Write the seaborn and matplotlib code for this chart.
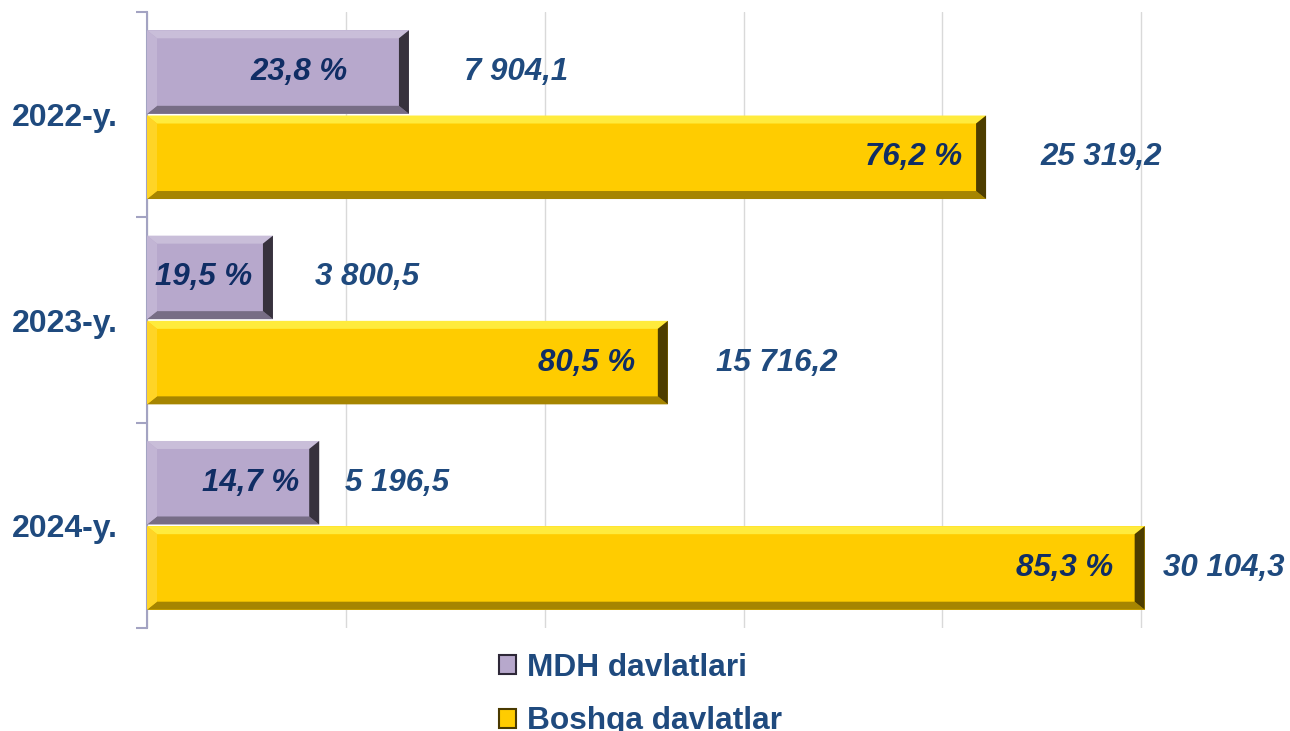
import pandas as pd
import matplotlib.pyplot as plt
import seaborn as sns
import numpy as np
from matplotlib.patches import Polygon, Patch
from matplotlib.colors import to_rgb

# Data
years = ['2022-y.', '2023-y.', '2024-y.']
groups = ['MDH davlatlari', 'Boshqa davlatlar']
mdh_values = [7904.1, 3800.5, 5196.5]
other_values = [25319.2, 15716.2, 30104.3]
mdh_share = [23.8, 19.5, 14.7]
other_share = [76.2, 80.5, 85.3]

# label placement (pixels), per year: (mdh, other)
value_gap = [(55, 54), (42, 48), (26, 18)]
share_gap = [(61, 24), (21, 33), (20, 32)]

df = pd.DataFrame({
    'year': years * 2,
    'group': [groups[0]] * 3 + [groups[1]] * 3,
    'value': mdh_values + other_values,
    'share': mdh_share + other_share,
})

colors = {groups[0]: '#B7A8CC', groups[1]: '#FFCC00'}
edge_dark = {groups[0]: '#2E2838', groups[1]: '#4A3A00'}
value_color = '#1F4A7E'
share_color = '#102D64'

sns.set_theme(style="white")
plt.rcParams['font.family'] = ['Liberation Sans', 'DejaVu Sans']

fig = plt.figure(figsize=(12.9, 7.31), dpi=100)
ax = fig.add_axes([147 / 1290, 1 - 628 / 731, 1 - 147 / 1290, (628 - 12) / 731])

sns.barplot(data=df, y='year', x='value', hue='group', orient='h',
            palette=colors, width=0.83, gap=0.02, saturation=1,
            linewidth=0, ax=ax, legend=True)

ax.set_xlim(0, 34490)
ax.set_ylim(2.5, -0.5)

# grid and axes
ax.set_xticks(np.arange(0, 30001, 6000))
ax.tick_params(axis='x', length=0, labelbottom=False)
ax.xaxis.grid(True, color='#D9D9D9', linewidth=1)
ax.set_axisbelow(True)
for s in ['top', 'right', 'bottom']:
    ax.spines[s].set_visible(False)
ax.spines['left'].set_color('#A3A3C2')
ax.spines['left'].set_linewidth(1.5)
ax.set_yticks([-0.5, 0.5, 1.5, 2.5], minor=True)
ax.tick_params(axis='y', which='minor', length=8, width=1.5, color='#A3A3C2', left=True)
ax.tick_params(axis='y', which='major', length=0, pad=21)
ax.set_yticklabels(years, fontsize=23, fontweight='bold', color='#1F4A7E')
ax.set_xlabel('')
ax.set_ylabel('')

# bevel effect on the bars
p0 = ax.transData.transform((0, 0))
p1 = ax.transData.transform((1, 1))
sx = p1[0] - p0[0]
sy = abs(p1[1] - p0[1])
bx, by = 10 / sx, 8 / sy


def mix(c, other, t):
    c = np.array(to_rgb(c))
    o = np.array(to_rgb(other))
    return tuple(c * (1 - t) + o * t)


bars = [p for p in ax.patches if p.get_width() > 0]
for p in bars:
    fc = p.get_facecolor()
    x0, yt = p.get_x(), p.get_y()
    x1, yb = x0 + p.get_width(), yt + p.get_height()
    top = [(x0, yt), (x1, yt), (x1 - bx, yt + by), (x0 + bx, yt + by)]
    bot = [(x0, yb), (x1, yb), (x1 - bx, yb - by), (x0 + bx, yb - by)]
    right = [(x1, yt), (x1, yb), (x1 - bx, yb - by), (x1 - bx, yt + by)]
    left = [(x0, yt), (x0, yb), (x0 + bx, yb - by), (x0 + bx, yt + by)]
    is_gold = to_rgb(fc)[2] < 0.3
    top_c = mix(fc, '#FFFF66', 0.6) if is_gold else mix(fc, 'white', 0.25)
    bot_c = mix(fc, 'black', 0.35)
    right_c = mix(fc, 'black', 0.7)
    left_c = mix(fc, 'white', 0.15)
    for pts, c in [(top, top_c), (bot, bot_c), (left, left_c), (right, right_c)]:
        ax.add_patch(Polygon(pts, closed=True, facecolor=c, edgecolor='none', zorder=3))

# labels
for gi, (vals, shares) in enumerate([(mdh_values, mdh_share), (other_values, other_share)]):
    for yi, (v, s) in enumerate(zip(vals, shares)):
        yc = yi + (-0.5 + gi) * 0.83 / 2
        vtxt = f"{v:,.1f}".replace(",", " ").replace(".", ",")
        stxt = f"{s:.1f}".replace(".", ",") + " %"
        ax.annotate(vtxt, (v, yc), xytext=(value_gap[yi][gi], 0), textcoords='offset pixels',
                    ha='left', va='center', fontsize=22.5, fontweight='bold',
                    fontstyle='italic', color=value_color, zorder=5, annotation_clip=False)
        ax.annotate(stxt, (v, yc), xytext=(-share_gap[yi][gi], 0), textcoords='offset pixels',
                    ha='right', va='center', fontsize=22.5, fontweight='bold',
                    fontstyle='italic', color=share_color, zorder=5)

# legend
ax.get_legend().remove()
handles = [Patch(facecolor=colors[g], edgecolor=edge_dark[g], linewidth=1.5) for g in groups]
fig.legend(handles, groups, loc='upper left', bbox_to_anchor=(470 / 1290, 1 - 624 / 731),
           frameon=False, handlelength=0.55, handleheight=0.55, handletextpad=0.35,
           labelspacing=0.75, prop={'size': 22.8, 'weight': 'bold'}, labelcolor='#1F4A7E')

fig.savefig('out.png', dpi=100)
plt.close(fig)
